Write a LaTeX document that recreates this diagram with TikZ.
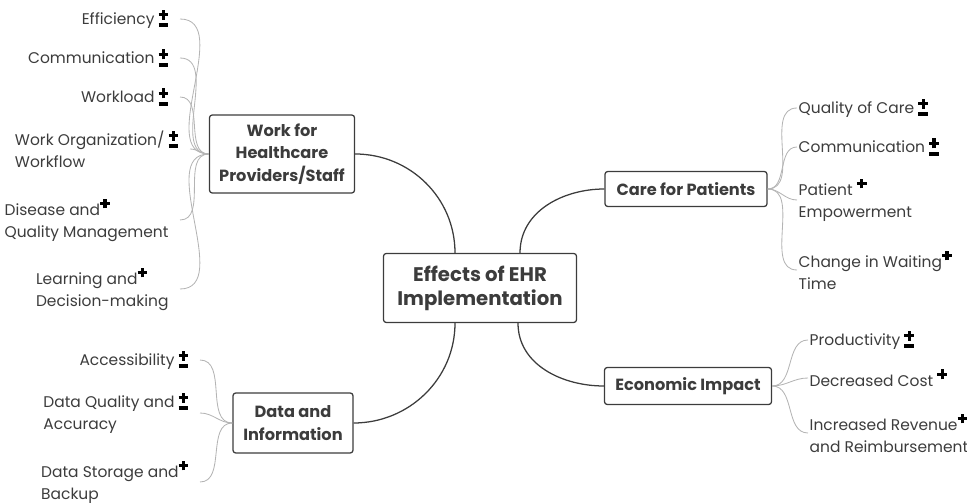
\documentclass[tikz,border=0pt]{standalone}
\usepackage{fontspec}
\setmainfont{Poppins}
\usetikzlibrary{positioning}
\definecolor{inkgray}{HTML}{3C3C3C}
\definecolor{twiggray}{HTML}{B4B4B4}
% heavy cross built from rules, #1 = height of its centre
\newcommand{\crossmark}[1]{\rlap{\rule[\dimexpr#1-1.2pt\relax]{7pt}{2.4pt}}\hspace{2.3pt}\rule[\dimexpr#1-3.5pt\relax]{2.4pt}{7pt}\hspace{2.3pt}}
\newcommand{\plussign}{{\color{black}\crossmark{8.5pt}}}
\newcommand{\pmsign}{{\color{black}\rlap{\rule[-1.8pt]{7pt}{2.6pt}}\crossmark{6.8pt}}}
\tikzset{
  hub/.style={draw=inkgray, line width=0.9pt, rounded corners=2pt, align=center, font=\fontsize{14}{17}\selectfont\bfseries, text=inkgray},
  topic/.style={draw=inkgray, line width=0.9pt, rounded corners=2pt, align=center, font=\fontsize{11.5}{16}\selectfont\bfseries, text=inkgray},
  leaf/.style={font=\fontsize{11}{15.5}\selectfont, text=inkgray, inner sep=1pt},
  leftleaf/.style={leaf, anchor=east, inner xsep=8pt},
  twig/.style={draw=twiggray, line width=0.6pt},
  branch/.style={draw=inkgray, line width=0.9pt}
}

\begin{document}
\begin{tikzpicture}[x=0.025cm, y=-0.025cm]
\useasboundingbox (0,0) rectangle (967,503);

\node[hub, minimum width=4.825cm, minimum height=1.725cm] (ehr) at (480,288) {Effects of EHR\\Implementation};
\node[topic, minimum width=3.625cm, minimum height=1.95cm] (work) at (282,154) {Work for\\Healthcare\\Providers/Staff};
\node[topic, minimum width=4.05cm, minimum height=0.875cm] (care) at (686,189) {Care for Patients};
\node[topic, minimum width=3cm, minimum height=1.5cm] (data) at (293,423) {Data and\\Information};
\node[topic, minimum width=4.175cm, minimum height=0.925cm] (econ) at (688,386) {Economic Impact};

% work leaves
\node[leftleaf, align=right] (w1) at (180,19) {Efficiency \pmsign};
\node[leftleaf, align=right] (w2) at (180,58) {Communication \pmsign};
\node[leftleaf, align=right] (w3) at (180,97) {Workload \pmsign};
\node[leftleaf, align=left] (w4) at (190,149) {Work Organization/ \pmsign\\Workflow};
\node[leftleaf, align=left] (w5) at (180,220) {Disease and\plussign\\Quality Management};
\node[leftleaf, align=left] (w6) at (180,289) {Learning and\plussign\\Decision-making};

% care leaves
\node[leaf, anchor=west, align=left] (c1) at (797,108) {Quality of Care \pmsign};
\node[leaf, anchor=west, align=left] (c2) at (797,147) {Communication \pmsign};
\node[leaf, anchor=west, align=left] (c3) at (797,200) {Patient \plussign\\Empowerment};
\node[leaf, anchor=west, align=left] (c4) at (797,270) {Change in Waiting\plussign\\Time};

% economic leaves
\node[leaf, anchor=west, align=left] (e1) at (808,340) {Productivity \pmsign};
\node[leaf, anchor=west, align=left] (e2) at (808,378) {Decreased Cost \plussign};
\node[leaf, anchor=west, align=left] (e3) at (808,433) {Increased Revenue\plussign\\and Reimbursement};

% data leaves
\node[leftleaf, align=right] (d1) at (200,360) {Accessibility \pmsign};
\node[leftleaf, align=left] (d2) at (200,413) {Data Quality and \pmsign\\Accuracy};
\node[leftleaf, align=left] (d3) at (200,482) {Data Storage and\plussign\\Backup};

% branches
\draw[branch] (work.east) to[out=0, in=90] ([xshift=-0.625cm]ehr.north);
\draw[branch] (care.west) to[out=180, in=90] ([xshift=1cm]ehr.north);
\draw[branch] (data.east) to[out=0, in=-90] ([xshift=-0.625cm]ehr.south);
\draw[branch] (econ.west) to[out=180, in=-90] ([xshift=0.95cm]ehr.south);

% twigs
\foreach \l in {w1,w2,w3,w4,w5,w6}
  \draw[twig] (\l.east) to[out=0, in=180] (work.west);
\foreach \l in {c1,c2,c3,c4}
  \draw[twig] (\l.west) to[out=180, in=0] (care.east);
\foreach \l in {e1,e2,e3}
  \draw[twig] (\l.west) to[out=180, in=0] (econ.east);
\foreach \l in {d1,d2,d3}
  \draw[twig] (\l.east) to[out=0, in=180] (data.west);

\end{tikzpicture}
\end{document}
